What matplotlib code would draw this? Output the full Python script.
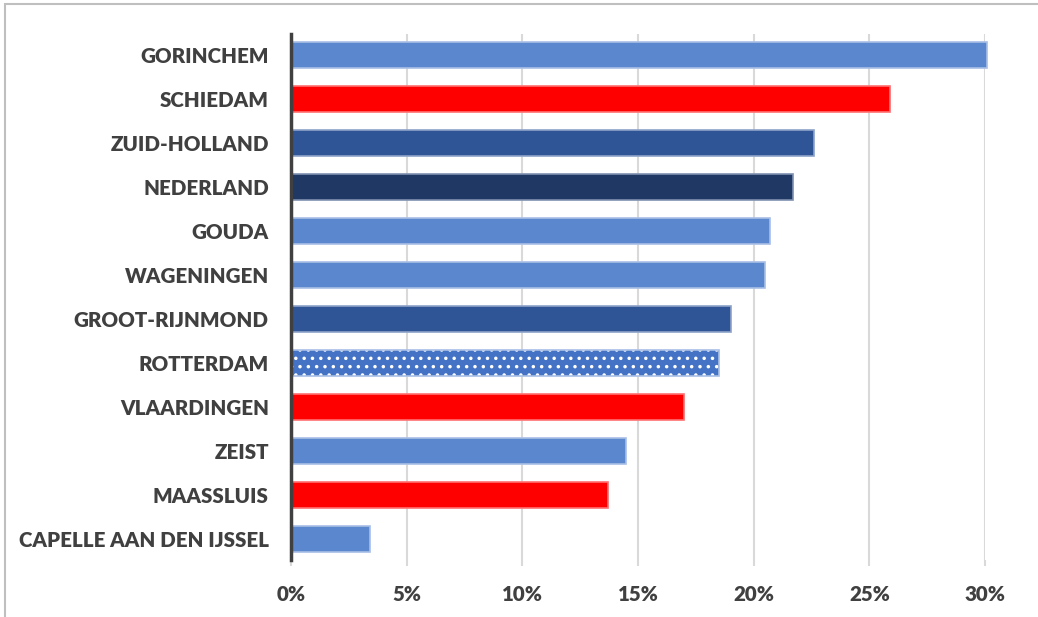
import matplotlib
matplotlib.use("Agg")
import matplotlib.pyplot as plt
from matplotlib.patches import Rectangle

categories = ["GORINCHEM", "SCHIEDAM", "ZUID-HOLLAND", "NEDERLAND", "GOUDA", "WAGENINGEN",
              "GROOT-RIJNMOND", "ROTTERDAM", "VLAARDINGEN", "ZEIST", "MAASSLUIS",
              "CAPELLE AAN DEN IJSSEL"]
values = [30.1, 25.9, 22.6, 21.7, 20.7, 20.5, 19.0, 18.5, 17.0, 14.5, 13.7, 3.4]
kinds = ["light", "red", "mid", "dark", "light", "light", "mid", "dotted", "red", "light", "red", "light"]
xticks = [0, 5, 10, 15, 20, 25, 30]
xticklabels = ["0%", "5%", "10%", "15%", "20%", "25%", "30%"]

fill = {"light": "#5B87CE", "red": "#FF0000", "mid": "#2F5597", "dark": "#203864", "dotted": "#4472C4"}
edge = {"light": "#A9BFE6", "red": "#FF7070", "mid": "#8EA3C8", "dark": "#8090B0", "dotted": "#A9BFE6"}

plt.rcParams['font.family'] = ['Lato', 'DejaVu Sans']
plt.rcParams['hatch.linewidth'] = 1.3

W, H = 1038, 617
fig = plt.figure(figsize=(W / 100, H / 100), dpi=100)
ax = fig.add_axes([291 / W, 1 - 560 / H, (985 - 291) / W, (560 - 34) / H])

ypos = list(range(len(categories)))
for y, v, k in zip(ypos, values, kinds):
    if k == "dotted":
        ax.barh(y, v, height=0.59, color=fill[k], edgecolor="white", hatch="..",
                linewidth=0, clip_on=False, zorder=3)
        ax.barh(y, v, height=0.59, facecolor="none", edgecolor=edge[k],
                linewidth=1.2, clip_on=False, zorder=4)
    else:
        ax.barh(y, v, height=0.59, color=fill[k], edgecolor=edge[k],
                linewidth=1.2, clip_on=False, zorder=3)

ax.set_xlim(0, 30)
ax.set_ylim(11.47, -0.48)
ax.set_yticks(ypos)
ax.set_yticklabels(categories)
ax.set_xticks(xticks)
ax.set_xticklabels(xticklabels)

ax.grid(axis="x", color="#D9D9D9", linewidth=1.5, zorder=0)
ax.set_axisbelow(True)
for s in ["top", "right", "bottom"]:
    ax.spines[s].set_visible(False)
ax.spines["left"].set_color("#404040")
ax.spines["left"].set_linewidth(2.5)
ax.spines["left"].set_zorder(5)

ax.tick_params(axis="y", length=0, pad=16, labelsize=14.8, labelcolor="#404040")
ax.tick_params(axis="x", length=4, width=1.5, color="#D9D9D9", pad=14,
               labelsize=14.8, labelcolor="#404040")
for lab in ax.get_yticklabels() + ax.get_xticklabels():
    lab.set_fontweight("heavy")

# outer chart frame
fig.add_artist(Rectangle((5 / W, -0.1), 1.2, 1 - 4 / H + 0.1, transform=fig.transFigure,
                         facecolor="none", edgecolor="#BFBFBF", linewidth=1.5))

fig.savefig("out.png", dpi=100)
